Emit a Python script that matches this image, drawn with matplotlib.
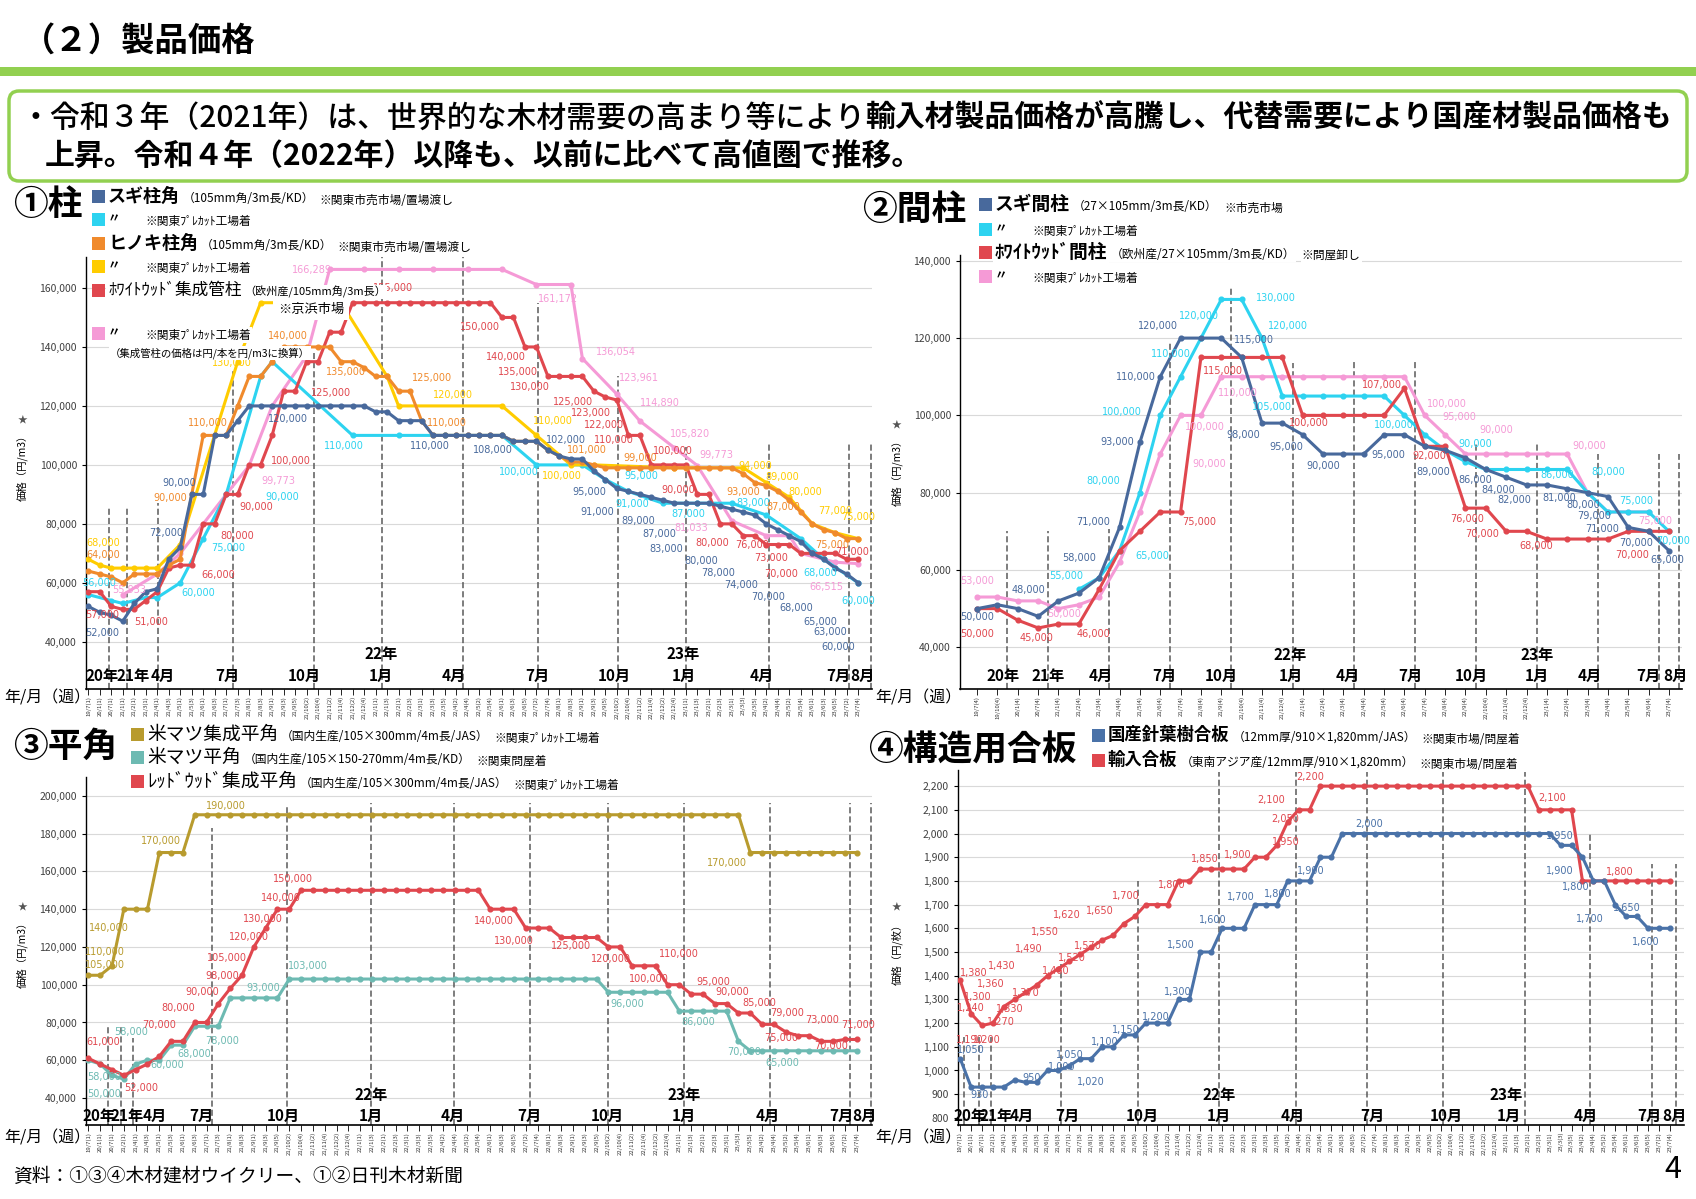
import numpy as np
import matplotlib
matplotlib.use("Agg")
import matplotlib.pyplot as plt
from matplotlib.patches import FancyBboxPatch, Rectangle
from matplotlib.ticker import FuncFormatter

plt.rcParams["font.family"] = ["Noto Sans CJK JP", "DejaVu Sans"]

W, H = 1696, 1199

# --- colours ---
BLUE = "#48699C"
CYAN = "#2DD3F0"
ORANGE = "#F08A2C"
YELLOW = "#FFCC00"
RED = "#E0474E"
PINK = "#F59AD6"
OLIVE = "#B89B2E"
TEAL = "#6DBAB2"
PLYBLUE = "#4A72A8"
GREEN = "#92D050"

# --- x categories (biweekly / monthly survey weeks) ---
weeks = ("21/4(1) 21/4(3) 21/5(1) 21/5(3) 21/6(1) 21/6(3) 21/7(1) 21/7(3) 21/8(1) 21/8(3) "
         "21/9(1) 21/9(3) 21/9(5) 21/10(2) 21/10(4) 21/11(2) 21/11(4) 21/12(2) 21/12(4) "
         "22/1(1) 22/1(3) 22/2(1) 22/2(3) 22/3(1) 22/3(3) 22/3(5) 22/4(2) 22/4(4) 22/5(2) 22/5(4) "
         "22/6(1) 22/6(3) 22/6(5) 22/7(2) 22/7(4) 22/8(1) 22/8(3) 22/9(1) 22/9(3) 22/9(5) "
         "22/10(2) 22/10(4) 22/11(2) 22/11(4) 22/12(2) 22/12(4) 23/1(1) 23/1(3) 23/2(1) 23/2(3) "
         "23/3(1) 23/3(3) 23/3(5) 23/4(2) 23/4(4) 23/5(2) 23/5(4) 23/6(1) 23/6(3) 23/6(5) "
         "23/7(2) 23/7(4)").split()
cats1 = ["19/7(1)", "20/1(1)", "20/7(1)", "21/1(1)", "21/2(1)", "21/3(1)"] + weeks
cats3 = ["19/7(1)", "20/1(1)", "20/7(1)", "21/2(1)"] + weeks
cats2 = ("19/7(4) 19/10(4) 20/1(4) 20/7(4) 21/1(4) 21/2(4) 21/3(4) 21/4(4) 21/5(4) 21/6(4) "
         "21/7(4) 21/8(4) 21/9(4) 21/10(4) 21/11(4) 21/12(4) 22/1(4) 22/2(4) 22/3(4) 22/4(4) "
         "22/5(4) 22/6(4) 22/7(4) 22/8(4) 22/9(4) 22/10(4) 22/11(4) 22/12(4) 23/1(4) 23/2(4) "
         "23/3(4) 23/4(4) 23/5(4) 23/6(4) 23/7(4)").split()

# --- ① 柱 (千円/m3) ---
sugi_mkt = [52, 50, 49, 47, 53, 57,
            58, 68, 72, 90, 90, 110, 110, 115,
            120, 120, 120, 120, 120, 120, 120, 120, 120, 120, 120,
            118, 118, 115, 115, 115, 110, 110, 110, 110, 110, 110, 110,
            108, 108, 108, 105, 103, 102, 102, 98, 95, 92, 91, 90, 89, 88,
            87, 87, 87, 87, 86, 85, 84, 83, 80, 78, 76, 74, 70, 68, 65, 63, 60]
sugi_pc = [56, None, 54, 53, None, 55, 55, None, 60, None, 75, None,
           90, None, None, 130, 135, None, None, None, None, None, None, 110,
           None, None, None, 110, None, None, None, 110, None, None, None, None,
           110, None, None, 100, None, None, None, 100, None, 95, None, 91,
           None, None, 87, None, None, 87, None, None, 87, None, None, 83,
           None, None, 75, None, 68, None, None, 60]
hinoki_mkt = [64, 63, 62, 60, 63, 63,
              63, 66, 68, 90, 110, 110, 110, 120, 130, 130, 135, 140, 140, 140, 140, 140,
              135, 135, 133, 130, 130, 125, 125, 115, 110,
              110, 110, 110, 110, 110, 110,
              108, 108, 108, 105, 103, 101, 101, 100,
              99, 99, 99, 99, 99, 99, 99, 99, 99, 99, 99, 99,
              97, 94, 93, 91, 88, 84, 80, 78, 77, 75, 75]
hinoki_pc = [68, 66, 65, 65, 65, 65, 65, None, 73, None, None, None,
             None, 135, None, 155, None, None, None, None, None, None, 155, None,
             None, None, 130, 120, None, None, None, None, None, None, None, None,
             120, None, None, 110, None, None, 100, None, 100, None, None, None,
             None, None, None, 99, None, None, None, None, None, 99, None, 94,
             None, 89, None, 80, None, 77, None, 75]
ww_mkt = [57, 57, 52, 51, 51, 54,
          57, 65, 66, 66, 80, 80, 90, 90, 100, 100, 110, 125, 125, 135, 135, 145, 145,
          155, 155, 155, 155, 155, 155, 155, 155, 155, 155, 155, 155, 155,
          150, 150, 140, 140, 130, 130, 130, 130, 125, 123, 122, 110, 110,
          100, 100, 100, 100, 90, 90, 80, 80, 76, 76, 73, 73, 73, 70, 70, 70, 70, 68, 68]
ww_pc = [None, None, None, 55.933, None, None, 63, None, 70, None, None, None,
         90, None, 99.773, None, 120, None, None, 137, None, 166.289, None, None,
         166.289, None, None, 166.289, None, None, 166.289, None, None, 166.289, None, None,
         166.289, None, None, 161.172, None, None, 161.172, 136.054, None, None, 123.961, None,
         114.890, None, None, 105.820, None, 99.773, None, None, 81.033, None, None, 76,
         None, 76, 70, None, None, 67, None, 66.515]

# --- ② 間柱 (千円/m3) ---
sugi_ma = [50, 51, 50, 48, 52, 54, 58, 71, 93, 110, 120, 120, 120, 115, 98, 98, 95, 90,
           90, 90, 95, 95, 92, 91, 89, 86, 84, 82, 82, 81, 80, 79, 71, 70, 65]
sugi_ma_pc = [None, None, None, None, None, 55, 58, 65, 80, 100, 110, 120, 130, 130, 120,
              105, 105, 105, 105, 105, 105, 100, 95, 91, 88, 86, 86, 86, 86, 86, 80, 75, 75, 75, 70]
ww_ma = [50, 50, 47, 45, 46, 46, 55, 65, 70, 75, 75, 115, 115, 115, 115, 115, 100, 100,
         100, 100, 100, 107, 92, 92, 76, 76, 70, 70, 68, 68, 68, 68, 70, 70, 70]
ww_ma_pc = [53, 53, 52, 52, 50, 51, 53, 62, 75, 90, 100, 100, 110, 110, 110, 110, 110, 110,
            110, 110, 110, 110, 100, 95, 90, 90, 90, 90, 90, 90, 80, 75, 75, 75, None]

# --- ③ 平角 (千円/m3) ---
beimatsu_glulam = [105, 105, 110, 140, 140, 140, 170, 170, 170,
                   190, 190, 190, 190, 190, 190, 190, 190, 190, 190,
                   190, 190, 190, 190, 190, 190, 190, 190, 190, 190,
                   190, 190, 190, 190, 190, 190, 190, 190, 190, 190,
                   190, 190, 190, 190, 190, 190, 190, 190, 190, 190,
                   190, 190, 190, 190, 190, 190, 190,
                   170, 170, 170, 170, 170, 170, 170, 170, 170, 170]
beimatsu_sawn = [60, 58, 52, 50, 58, 60, 60, 68, 68, 78, 78, 78, 93, 93, 93, 93, 93,
                 103, 103, 103, 103, 103, 103, 103, 103, 103, 103, 103, 103, 103, 103,
                 103, 103, 103, 103, 103, 103, 103, 103, 103, 103, 103, 103, 103,
                 96, 96, 96, 96, 96, 96, 86, 86, 86, 86, 86, 70,
                 65, 65, 65, 65, 65, 65, 65, 65, 65, 65]
redwood_glulam = [61, 58, 55, 52, 55, 58, 62, 70, 70, 80, 80, 90, 98, 105, 120, 130, 140, 140,
                  150, 150, 150, 150, 150, 150, 150, 150, 150, 150, 150, 150, 150, 150, 150, 150,
                  140, 140, 140, 130, 130, 130, 125, 125, 125, 125, 120, 120, 110, 110, 110,
                  100, 100, 95, 95, 90, 90, 85, 85, 79, 79, 75, 73, 73, 70, 70, 71, 71]

# --- ④ 構造用合板 (円/枚) ---
ply_domestic = [1050, 930, 930, 930, 930, 960, 950, 950, 1000, 1000, 1020, 1050, 1050,
                1100, 1100, 1150, 1150, 1200, 1200, 1200, 1300, 1300, 1500, 1500,
                1600, 1600, 1600, 1700, 1700, 1700, 1800, 1800, 1800, 1900, 1900,
                2000, 2000, 2000, 2000, 2000, 2000, 2000, 2000, 2000, 2000,
                2000, 2000, 2000, 2000, 2000, 2000, 2000, 2000, 2000, 2000,
                1950, 1950, 1900, 1800, 1800, 1700, 1650, 1650, 1600, 1600, 1600]
ply_import = [1380, 1240, 1190, 1200, 1270, 1300, 1330, 1360, 1400, 1430, 1460, 1490, 1520,
              1550, 1570, 1620, 1650, 1700, 1700, 1700, 1800, 1800,
              1850, 1850, 1850, 1850, 1850, 1900, 1900, 1950, 2050, 2100, 2100,
              2200, 2200, 2200, 2200, 2200, 2200, 2200, 2200, 2200, 2200,
              2200, 2200, 2200, 2200, 2200, 2200, 2200, 2200, 2200, 2200,
              2100, 2100, 2100, 2100, 1800, 1800, 1800, 1800, 1800, 1800, 1800, 1800, 1800]

# --- value labels: (x, y, text, colour) ---
labels1 = [
    (1.2, 43, "52,000", BLUE), (6.8, 77, "72,000", BLUE), (7.9, 94, "90,000", BLUE),
    (17.4, 115.6, "120,000", BLUE), (29.7, 106.4, "110,000", BLUE), (35.2, 105, "108,000", BLUE),
    (41.6, 108.5, "102,000", BLUE), (43.6, 90.8, "95,000", BLUE), (44.3, 84, "91,000", BLUE),
    (47.9, 81, "89,000", BLUE), (49.7, 76.6, "87,000", BLUE), (50.3, 71.5, "83,000", BLUE),
    (53.3, 67.5, "80,000", BLUE), (54.8, 63.4, "78,000", BLUE), (56.8, 59.3, "74,000", BLUE),
    (59.2, 55.3, "70,000", BLUE), (61.6, 51.5, "68,000", BLUE), (63.7, 46.8, "65,000", BLUE),
    (64.6, 43.4, "63,000", BLUE), (65.3, 38.3, "60,000", BLUE),
    (0.9, 60, "56,000", CYAN), (9.6, 56.6, "60,000", CYAN), (12.2, 71.9, "75,000", CYAN),
    (16.9, 89, "90,000", CYAN), (22.2, 106.4, "110,000", CYAN), (37.5, 97.6, "100,000", CYAN),
    (48.1, 96.3, "95,000", CYAN), (47.3, 86.8, "91,000", CYAN), (52.2, 83.4, "87,000", CYAN),
    (57.9, 87, "83,000", CYAN), (63.7, 63.4, "68,000", CYAN), (67, 54, "60,000", CYAN),
    (1.3, 69.5, "64,000", ORANGE), (7.1, 88.8, "90,000", ORANGE), (10.4, 114.2, "110,000", ORANGE),
    (17.4, 143.7, "140,000", ORANGE), (22.4, 131.5, "135,000", ORANGE), (29.9, 129.5, "125,000", ORANGE),
    (31.2, 114.2, "110,000", ORANGE), (43.4, 105, "101,000", ORANGE), (48, 102.4, "99,000", ORANGE),
    (57, 90.8, "93,000", ORANGE), (60.5, 85.8, "87,000", ORANGE), (64.7, 72.9, "75,000", ORANGE),
    (1.3, 73.6, "68,000", YELLOW), (12.5, 134.6, "130,000", YELLOW), (31.7, 123.7, "120,000", YELLOW),
    (40.4, 115, "110,000", YELLOW), (41.2, 96.3, "100,000", YELLOW), (58, 99.7, "94,000", YELLOW),
    (60.4, 95.9, "89,000", YELLOW), (62.4, 90.8, "80,000", YELLOW), (65, 84.4, "77,000", YELLOW),
    (67, 82.4, "75,000", YELLOW),
    (1.2, 49.2, "57,000", RED), (5.5, 46.8, "51,000", RED), (11.3, 62.7, "66,000", RED),
    (13, 76, "80,000", RED), (14.6, 85.8, "90,000", RED), (17.6, 101.4, "100,000", RED),
    (21.1, 124.4, "125,000", RED), (26.5, 160, "155,000", RED), (34.1, 146.8, "150,000", RED),
    (36.3, 136.6, "140,000", RED), (37.4, 131.5, "135,000", RED), (38.4, 126.4, "130,000", RED),
    (42.2, 121.4, "125,000", RED), (43.7, 117.6, "123,000", RED), (44.9, 113.6, "122,000", RED),
    (45.7, 108.5, "110,000", RED), (50.9, 104.7, "100,000", RED), (51.3, 91.5, "90,000", RED),
    (54.3, 73.6, "80,000", RED), (57.8, 72.9, "76,000", RED), (59.4, 68.5, "73,000", RED),
    (60.3, 63, "70,000", RED), (66.5, 70.5, "71,000", RED),
    (3.6, 57.6, "55,933", PINK), (16.5, 94.6, "99,773", PINK), (19.5, 166, "166,289", PINK),
    (40.9, 156.3, "161,172", PINK), (45.9, 138.3, "136,054", PINK), (47.9, 129.5, "123,961", PINK),
    (49.7, 121, "114,890", PINK), (52.4, 110.5, "105,820", PINK), (54.7, 103.4, "99,773", PINK),
    (52.5, 78.6, "81,033", PINK), (64.2, 58.6, "66,515", PINK),
]
labels2 = [
    (0, 47.9, "50,000", BLUE), (2.5, 54.8, "48,000", BLUE), (5, 63, "58,000", BLUE),
    (5.7, 72.5, "71,000", BLUE), (6.9, 93, "93,000", BLUE), (7.8, 110, "110,000", BLUE),
    (8.9, 123, "120,000", BLUE), (13.6, 119.4, "115,000", BLUE), (13.1, 95, "98,000", BLUE),
    (15.2, 91.7, "95,000", BLUE), (17, 87, "90,000", BLUE), (20.2, 89.7, "95,000", BLUE),
    (22.4, 85.3, "89,000", BLUE), (24.5, 83.3, "86,000", BLUE), (25.6, 80.7, "84,000", BLUE),
    (26.4, 78.2, "82,000", BLUE), (28.6, 78.6, "81,000", BLUE), (29.8, 76.8, "80,000", BLUE),
    (30.3, 74, "79,000", BLUE), (30.7, 70.7, "71,000", BLUE), (32.4, 66.9, "70,000", BLUE),
    (33.9, 62.5, "65,000", BLUE),
    (0, 43.5, "50,000", RED), (2.9, 42.5, "45,000", RED), (5.7, 43.5, "46,000", RED),
    (10.9, 72.5, "75,000", RED), (12.1, 111.5, "115,000", RED), (16.3, 97.9, "100,000", RED),
    (19.9, 107.9, "107,000", RED), (22.2, 89.4, "92,000", RED), (24.1, 73.3, "76,000", RED),
    (24.8, 69.2, "70,000", RED), (27.5, 66.1, "68,000", RED), (32.2, 64, "70,000", RED),
    (4.4, 58.4, "55,000", CYAN), (6.2, 83, "80,000", CYAN), (8.6, 63.5, "65,000", CYAN),
    (7.1, 101, "100,000", CYAN), (9.5, 116, "110,000", CYAN), (10.9, 125.8, "120,000", CYAN),
    (14.7, 130.4, "130,000", CYAN), (15.3, 123, "120,000", CYAN), (14.5, 102.2, "105,000", CYAN),
    (20.5, 97.4, "100,000", CYAN), (24.5, 92.5, "90,000", CYAN), (28.5, 84.5, "86,000", CYAN),
    (31, 85.3, "80,000", CYAN), (32.4, 77.9, "75,000", CYAN), (34.2, 67.4, "70,000", CYAN),
    (0, 57.1, "53,000", PINK), (4.3, 48.6, "50,000", PINK), (11.4, 87.4, "90,000", PINK),
    (11.2, 97.1, "100,000", PINK), (12.8, 105.8, "110,000", PINK), (23.1, 103, "100,000", PINK),
    (23.7, 99.7, "95,000", PINK), (25.5, 96.3, "90,000", PINK), (30.1, 92, "90,000", PINK),
    (33.3, 72.7, "75,000", PINK),
]
labels3 = [
    (1.4, 110.5, "105,000", OLIVE), (1.4, 117.4, "110,000", OLIVE), (1.75, 130, "140,000", OLIVE),
    (6.1, 176, "170,000", OLIVE), (11.6, 194.8, "190,000", OLIVE), (54, 164.5, "170,000", OLIVE),
    (1.3, 51, "58,000", TEAL), (1.3, 42, "50,000", TEAL), (3.6, 75, "58,000", TEAL),
    (6.7, 57.4, "60,000", TEAL), (9, 63.2, "68,000", TEAL), (11.3, 70, "78,000", TEAL),
    (14.8, 98.5, "93,000", TEAL), (18.6, 110, "103,000", TEAL), (45.6, 89.8, "96,000", TEAL),
    (51.6, 80, "86,000", TEAL), (55.5, 64.4, "70,000", TEAL), (58.7, 58.5, "65,000", TEAL),
    (1.3, 69.5, "61,000", RED), (4.5, 45.3, "52,000", RED), (6, 78.7, "70,000", RED),
    (7.6, 87.7, "80,000", RED), (9.6, 96.2, "90,000", RED), (11.3, 104.6, "98,000", RED),
    (11.7, 114, "105,000", RED), (13.6, 125.3, "120,000", RED), (14.8, 134.8, "130,000", RED),
    (16.3, 146, "140,000", RED), (17.3, 156, "150,000", RED), (34.3, 133.5, "140,000", RED),
    (36, 123.2, "130,000", RED), (40.8, 120.5, "125,000", RED), (44.2, 113.6, "120,000", RED),
    (50, 116.3, "110,000", RED), (47.4, 103, "100,000", RED), (52.9, 101.5, "95,000", RED),
    (54.5, 96.2, "90,000", RED), (56.8, 90.3, "85,000", RED), (59.1, 85, "79,000", RED),
    (58.6, 71.8, "75,000", RED), (62.1, 81.3, "73,000", RED), (62.8, 67.6, "70,000", RED),
    (65.1, 78.7, "71,000", RED),
]
labels4 = [
    (1.0, 1085, "1,050", PLYBLUE), (1.8, 895, "930", PLYBLUE), (6.5, 968, "950", PLYBLUE),
    (9.3, 1013, "1,000", PLYBLUE), (10, 1067, "1,050", PLYBLUE), (12, 953, "1,020", PLYBLUE),
    (13.2, 1122, "1,100", PLYBLUE), (15.2, 1172, "1,150", PLYBLUE), (17.9, 1227, "1,200", PLYBLUE),
    (19.9, 1332, "1,300", PLYBLUE), (20.2, 1528, "1,500", PLYBLUE), (23.1, 1633, "1,600", PLYBLUE),
    (25.7, 1733, "1,700", PLYBLUE), (29.1, 1743, "1,800", PLYBLUE), (32.1, 1843, "1,900", PLYBLUE),
    (37.5, 2039, "2,000", PLYBLUE), (54.9, 1989, "1,950", PLYBLUE), (54.9, 1843, "1,900", PLYBLUE),
    (56.4, 1774, "1,800", PLYBLUE), (57.7, 1638, "1,700", PLYBLUE), (61.1, 1684, "1,650", PLYBLUE),
    (62.8, 1542, "1,600", PLYBLUE),
    (1.2, 1410, "1,380", RED), (1.0, 1265, "1,240", RED), (0.9, 1130, "1,190", RED),
    (1.6, 1309, "1,300", RED), (2.4, 1127, "1,200", RED), (2.8, 1364, "1,360", RED),
    (3.7, 1204, "1,270", RED), (3.8, 1441, "1,430", RED), (4.5, 1259, "1,330", RED),
    (6, 1328, "1,370", RED), (6.3, 1514, "1,490", RED), (8.8, 1419, "1,460", RED),
    (7.8, 1583, "1,550", RED), (10.2, 1474, "1,520", RED), (11.7, 1524, "1,570", RED),
    (9.8, 1656, "1,620", RED), (12.8, 1674, "1,650", RED), (15.2, 1738, "1,700", RED),
    (19.4, 1784, "1,800", RED), (22.4, 1893, "1,850", RED), (25.4, 1911, "1,900", RED),
    (29.8, 1966, "1,950", RED), (29.8, 2062, "2,050", RED), (28.5, 2140, "2,100", RED),
    (32.1, 2240, "2,200", RED), (54.2, 2149, "2,100", RED), (60.4, 1838, "1,800", RED),
]

fig = plt.figure(figsize=(W / 100, H / 100), dpi=100)


def panel(box, cats, xlim, ylim, yticks, series, scale, marks, tops,
          months, years, month_y, year_y, labels):
    l, t, r, b = box
    ax = fig.add_axes([l / W, 1 - b / H, (r - l) / W, (b - t) / H])
    x = np.arange(len(cats))
    for vals, color in series:
        y = np.array([np.nan if v is None else v for v in vals], float) * scale
        ok = ~np.isnan(y)
        ax.plot(x[ok], y[ok], color=color, lw=2.2, marker="o", ms=3.4, zorder=3)
    ax.vlines(marks, ylim[0], np.array(tops) * scale, colors="#5a5a5a",
              linestyles=(0, (4, 2)), lw=1.1, zorder=2)
    for xm, s in months:
        ax.text(xm, month_y * scale, s, ha="center", va="center", fontsize=11,
                fontweight="bold", zorder=6)
    for xm, s in years:
        ax.text(xm, year_y * scale, s, ha="center", va="center", fontsize=11,
                fontweight="bold", zorder=6)
    for lx, ly, s, c in labels:
        ax.text(lx, ly * scale, s, color=c, fontsize=7, ha="center", va="center",
                zorder=4, family=["DejaVu Sans"])
    ax.set_xlim(xlim)
    ax.set_ylim(ylim)
    ax.set_xticks(x)
    ax.set_xticklabels(cats, rotation=90, fontsize=4.3, color="#333333")
    ax.set_yticks(yticks)
    ax.yaxis.set_major_formatter(FuncFormatter(lambda v, p: f"{v:,.0f}"))
    ax.tick_params(axis="y", labelsize=7.5, labelcolor="#404040", length=3, width=0.8)
    ax.tick_params(axis="x", length=4, width=0.6, pad=1)
    ax.grid(axis="y", color="#D9D9D9", lw=0.8)
    ax.set_axisbelow(True)
    for s in ("top", "right"):
        ax.spines[s].set_visible(False)
    ax.spines["left"].set_linewidth(1.0)
    ax.spines["bottom"].set_linewidth(1.2)
    return ax


K = 1000
panel((86, 257, 872, 689), cats1, (-0.2, 68.2), (24000, 170500), np.arange(40000, 160001, 20000),
      [(ww_pc, PINK), (sugi_pc, CYAN), (hinoki_pc, YELLOW), (ww_mkt, RED),
       (hinoki_mkt, ORANGE), (sugi_mkt, BLUE)], K,
      [1.8, 3.4, 6.1, 12.6, 19.6, 25.6, 32.6, 39.1, 46.1, 52.0, 59.2, 66.2, 68.1],
      [86, 86, 87, 132, 138, 175, 175, 155, 130, 106, 107, 107, 107],
      [(1.2, "20年"), (3.9, "21年"), (6.5, "4月"), (12.1, "7月"), (18.8, "10月"), (25.5, "1月"),
       (31.8, "4月"), (39.1, "7月"), (45.8, "10月"), (51.8, "1月"), (58.6, "4月"), (65.3, "7月"),
       (67.4, "8月")],
      [(25.5, "22年"), (51.8, "23年")], 28.5, 36, labels1)

panel((960, 255, 1682, 689), cats2, (-0.84, 34.64), (29200, 141500), np.arange(40000, 140001, 20000),
      [(ww_ma_pc, PINK), (sugi_ma_pc, CYAN), (ww_ma, RED), (sugi_ma, BLUE)], K,
      [1.45, 3.5, 6.5, 9.5, 12.5, 15.5, 18.5, 21.5, 24.5, 27.5, 30.5, 33.5, 34.5],
      [70, 70, 70.7, 119, 133, 113.5, 114, 114, 93, 93, 90, 90, 90],
      [(1.3, "20年"), (3.5, "21年"), (6.1, "4月"), (9.2, "7月"), (12.0, "10月"), (15.4, "1月"),
       (18.2, "4月"), (21.3, "7月"), (24.3, "10月"), (27.5, "1月"), (30.1, "4月"), (33.0, "7月"),
       (34.3, "8月")],
      [(15.4, "22年"), (27.5, "23年")], 32.5, 38.1, labels2)

panel((86, 777, 872, 1125), cats3, (-0.2, 66.3), (25700, 210000), np.arange(40000, 200001, 20000),
      [(beimatsu_sawn, TEAL), (beimatsu_glulam, OLIVE), (redwood_glulam, RED)], K,
      [1.7, 2.8, 3.8, 10.5, 16.8, 23.9, 30.9, 37.4, 44.0, 50.4, 57.7, 64.4, 66.2],
      [78, 78, 72, 183, 195, 196, 196, 196, 196, 196, 196, 196, 196],
      [(0.94, "20年"), (3.3, "21年"), (5.6, "4月"), (9.6, "7月"), (16.5, "10月"), (23.9, "1月"),
       (30.8, "4月"), (37.3, "7月"), (43.9, "10月"), (50.4, "1月"), (57.5, "4月"), (63.7, "7月"),
       (65.7, "8月")],
      [(23.9, "22年"), (50.4, "23年")], 30.5, 41.6, labels3)

panel((958, 770, 1684, 1125), cats3, (-0.2, 66.3), (770, 2268), np.arange(800, 2201, 100),
      [(ply_import, RED), (ply_domestic, PLYBLUE)], 1,
      [0.35, 1.74, 2.83, 9.2, 16.3, 23.7, 30.8, 37.3, 44.2, 51.7, 57.7, 63.4, 65.6],
      [1140, 1140, 1140, 1450, 1800, 2260, 2260, 2260, 2260, 2260, 2000, 1870, 1870],
      [(0.9, "20年"), (3.3, "21年"), (5.6, "4月"), (9.8, "7月"), (16.7, "10月"), (23.7, "1月"),
       (30.5, "4月"), (37.8, "7月"), (44.5, "10月"), (50.3, "1月"), (57.3, "4月"), (63.1, "7月"),
       (65.4, "8月")],
      [(23.7, "22年"), (50.0, "23年")], 808, 897, labels4)

# --- overlay in pixel coordinates for page furniture and legends ---
ov = fig.add_axes([0, 0, 1, 1], zorder=10)
ov.set_xlim(0, W)
ov.set_ylim(H, 0)
ov.axis("off")
ov.patch.set_alpha(0)

ov.text(22, 41, "（２）製品価格", fontsize=24, fontweight="bold", va="center", ha="left")
ov.add_patch(Rectangle((0, 67), W, 9, color=GREEN, lw=0))
ov.add_patch(FancyBboxPatch((9, 91), 1678, 90, boxstyle="round,pad=0,rounding_size=10",
                            ec=GREEN, fc="white", lw=2.5))
t1 = ov.text(20, 118, "・令和３年（2021年）は、世界的な木材需要の高まり等により",
             fontsize=21.5, fontweight=500, va="center", ha="left")
ov.annotate("輸入材製品価格が高騰し、代替需要により国産材製品価格も", xy=(1, 0.5), xycoords=t1,
            xytext=(0, 0), textcoords="offset points", fontsize=21.5, fontweight="bold",
            va="center", ha="left")
ov.text(45, 156, "上昇。令和４年（2022年）以降も、以前に比べて高値圏で推移。",
        fontsize=21.5, fontweight="bold", va="center", ha="left")

WB = dict(boxstyle="square,pad=0.1", fc="white", ec="none")


def legend_row(x, y, color, parts):
    ov.add_patch(Rectangle((x, y - 6.5), 13, 13, color=color, lw=0, zorder=5))
    prev = None
    for text, size, weight, gap in parts:
        kw = dict(fontsize=size, fontweight=weight, va="center", ha="left", bbox=WB, zorder=6)
        if prev is None:
            prev = ov.text(x + 16, y, text, **kw)
        else:
            prev = ov.annotate(text, xy=(1, 0.5), xycoords=prev, xytext=(gap, -1.5),
                               textcoords="offset points", **kw)


PC = "※関東ﾌﾟﾚｶｯﾄ工場着"
ov.text(13, 205, "①柱", fontsize=25, fontweight="bold", va="center")
legend_row(92, 196, BLUE, [("スギ柱角", 13, "bold", 0), ("（105mm角/3m長/KD）", 8.5, "normal", 2),
                           ("※関東市売市場/置場渡し", 8.5, "normal", 4)])
legend_row(92, 219, CYAN, [("〃", 9, "bold", 0), (PC, 8.5, "normal", 18)])
legend_row(92, 243, ORANGE, [("ヒノキ柱角", 13, "bold", 0), ("（105mm角/3m長/KD）", 8.5, "normal", 2),
                             ("※関東市売市場/置場渡し", 8.5, "normal", 4)])
legend_row(92, 266, YELLOW, [("〃", 9, "bold", 0), (PC, 8.5, "normal", 18)])
legend_row(92, 290, RED, [("ﾎﾜｲﾄｳｯﾄﾞ集成管柱", 12, "normal", 0),
                          ("（欧州産/105mm角/3m長）", 8, "normal", 2)])
ov.text(278, 309, "※京浜市場", fontsize=9.5, va="center", ha="left",
        bbox=dict(boxstyle="square,pad=0.35", fc="white", ec="none"), zorder=6)
legend_row(92, 333, PINK, [("〃", 9, "bold", 0), (PC, 8.5, "normal", 18)])
ov.text(110, 353, "（集成管柱の価格は円/本を円/m3に換算）", fontsize=7.5, va="center", ha="left",
        bbox=WB, zorder=6)

ov.text(862, 209, "②間柱", fontsize=25, fontweight="bold", va="center")
legend_row(979, 204, BLUE, [("スギ間柱", 13.5, "bold", 0), ("（27×105mm/3m長/KD）", 8.5, "normal", 2),
                            ("※市売市場", 8.5, "normal", 5)])
legend_row(979, 229, CYAN, [("〃", 9, "bold", 0), (PC, 8.5, "normal", 18)])
legend_row(979, 252, RED, [("ﾎﾜｲﾄｳｯﾄﾞ間柱", 13.5, "bold", 0),
                           ("（欧州産/27×105mm/3m長/KD）", 8.5, "normal", 2),
                           ("※問屋卸し", 8.5, "normal", 5)])
legend_row(979, 276, PINK, [("〃", 9, "bold", 0), (PC, 8.5, "normal", 18)])

ov.text(13, 746, "③平角", fontsize=25, fontweight="bold", va="center")
legend_row(131, 734, OLIVE, [("米マツ集成平角", 13.5, "normal", 0),
                             ("（国内生産/105×300mm/4m長/JAS）", 8.5, "normal", 2),
                             (PC, 8.5, "normal", 4)])
legend_row(131, 757, TEAL, [("米マツ平角", 13.5, "normal", 0),
                            ("（国内生産/105×150-270mm/4m長/KD）", 8.5, "normal", 2),
                            ("※関東問屋着", 8.5, "normal", 4)])
legend_row(131, 781, RED, [("ﾚｯﾄﾞｳｯﾄﾞ集成平角", 13.5, "normal", 0),
                           ("（国内生産/105×300mm/4m長/JAS）", 8.5, "normal", 2),
                           (PC, 8.5, "normal", 4)])

ov.text(868, 749, "④構造用合板", fontsize=25, fontweight="bold", va="center")
legend_row(1092, 735, PLYBLUE, [("国産針葉樹合板", 12.5, "bold", 0),
                                ("（12mm厚/910×1,820mm/JAS）", 8.5, "normal", 2),
                                ("※関東市場/問屋着", 8.5, "normal", 4)])
legend_row(1092, 760, RED, [("輸入合板", 12.5, "bold", 0),
                            ("（東南アジア産/12mm厚/910×1,820mm）", 8.5, "normal", 2),
                            ("※関東市場/問屋着", 8.5, "normal", 4)])

# axis captions
for xx, yy, s in [(22, 465, "価格（円/m3）"), (897, 470, "価格（円/m3）"),
                  (22, 952, "価格（円/m3）"), (897, 952, "価格（円/枚）")]:
    ov.text(xx, yy, s, rotation=90, fontsize=7.5, ha="center", va="center")
    ov.text(xx, yy - 45, "★", fontsize=7, color="#555555", ha="center", va="center")
for xx, yy in [(47, 698), (918, 698), (47, 1138), (918, 1138)]:
    ov.text(xx, yy, "年/月（週）", fontsize=11.5, ha="center", va="center")

ov.text(13, 1176, "資料：①③④木材建材ウイクリー、①②日刊木材新聞", fontsize=13.5, va="center", ha="left")
ov.text(1673, 1170, "4", fontsize=22, ha="center", va="center")

fig.savefig("out.png", dpi=100)
